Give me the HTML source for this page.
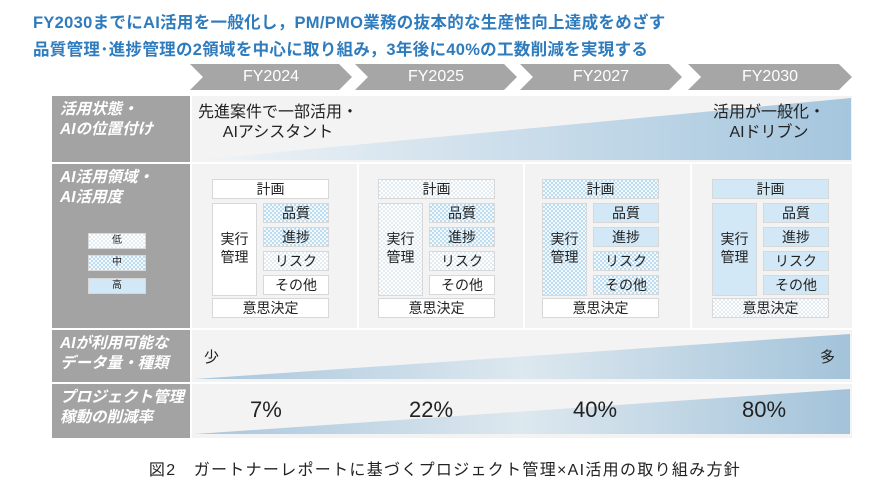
<!DOCTYPE html>
<html><head><meta charset="utf-8"><style>
*{margin:0;padding:0;box-sizing:border-box}
body{width:890px;height:500px;background:#fff;position:relative;overflow:hidden;font-family:"Liberation Sans","Noto Sans CJK JP",sans-serif}
.a{position:absolute}
.t{color:#2e7bbd;font-weight:bold;font-size:16.5px;left:33px;letter-spacing:0.3px}
.chev{position:absolute;top:64px;height:26px;background:#a6a6a6;color:#fff;font-size:16px;text-align:center;line-height:26px;clip-path:polygon(0 0,92% 0,100% 50%,92% 100%,0 100%,8% 50%)}
.lab{position:absolute;left:52px;width:138px;background:#a3a3a3;color:#fff;font-weight:bold;font-style:italic;font-size:15.5px;line-height:20px;padding:4px 0 0 8px}
.cont{position:absolute;left:192px;width:660px;background:#f3f3f3}
.b{position:absolute;border:1px solid #d8d8d8;background:#fff;font-size:14px;color:#222;text-align:center;line-height:18px}
.low{background:repeating-conic-gradient(#e3ecf2 0 25%,#fff 0 50%) 0 0/4px 4px}
.mid{background:repeating-conic-gradient(#bcdcf0 0 25%,#f2f8fc 0 50%) 0 0/4px 4px}
.hi{background:#d3e8f7}
.big{font-size:22px;color:#222;position:absolute;top:397px}
</style></head><body>
<div class="a t" style="top:9px">FY2030までにAI活用を一般化し，PM/PMO業務の抜本的な生産性向上達成をめざす</div>
<div class="a t" style="top:36px">品質管理･進捗管理の2領域を中心に取り組み，3年後に40%の工数削減を実現する</div>

<div class="chev" style="left:190px;width:162px">FY2024</div>
<div class="chev" style="left:355px;width:162px">FY2025</div>
<div class="chev" style="left:520px;width:162px">FY2027</div>
<div class="chev" style="left:688px;width:164px">FY2030</div>

<div class="lab" style="top:96px;height:66px">活用状態・<br>AIの位置付け</div>
<div class="lab" style="top:164px;height:164px">AI活用領域・<br>AI活用度</div>
<div class="lab" style="top:330px;height:52px">AIが利用可能な<br>データ量・種類</div>
<div class="lab" style="top:384px;height:54px">プロジェクト管理<br>稼動の削減率</div>

<div class="b low" style="left:88px;top:233px;width:58px;height:16px;font-size:10px;line-height:14px">低</div>
<div class="b mid" style="left:88px;top:255px;width:58px;height:16px;font-size:10px;line-height:14px">中</div>
<div class="b hi" style="left:88px;top:278px;width:58px;height:16px;font-size:10px;line-height:14px">高</div>

<div class="cont" style="top:96px;height:66px"></div>
<div class="cont" style="top:164px;height:164px;background:#fff"></div>
<div class="cont" style="top:330px;height:52px"></div>
<div class="cont" style="top:384px;height:54px"></div>

<svg class="a" style="left:0;top:0" width="890" height="500">
<defs>
<linearGradient id="g1" x1="0" x2="1"><stop offset="0" stop-color="#f0f4f7"/><stop offset="1" stop-color="#a5c6de"/></linearGradient>
<linearGradient id="g2" x1="0" x2="1"><stop offset="0" stop-color="#a8c6dc"/><stop offset="0.5" stop-color="#dde8ef"/><stop offset="1" stop-color="#a3c3da"/></linearGradient>
</defs>
<polygon points="195,160 851,98 851,160" fill="url(#g1)"/>
<rect x="192" y="164" width="165" height="164" fill="#f3f3f3"/>
<rect x="359" y="164" width="164" height="164" fill="#f3f3f3"/>
<rect x="525" y="164" width="165" height="164" fill="#f3f3f3"/>
<rect x="692" y="164" width="160" height="164" fill="#f3f3f3"/>
<polygon points="195,379 850,334 850,379" fill="url(#g2)"/>
<polygon points="195,434 850,389 850,434" fill="url(#g2)"/>
</svg>

<div class="a" style="left:198px;top:103px;font-size:16px;line-height:20px;color:#222;text-align:center">先進案件で一部活用・<br>AIアシスタント</div>
<div class="a" style="left:713px;top:103px;font-size:16px;line-height:20px;color:#222;text-align:center">活用が一般化・<br>AIドリブン</div>

<!-- col1 -->
<div class="b" style="left:212px;top:179px;width:117px;height:20px">計画</div>
<div class="b" style="left:212px;top:203px;width:45px;height:93px;padding-top:26px">実行<br>管理</div>
<div class="b mid" style="left:263px;top:203px;width:66px;height:20px">品質</div>
<div class="b mid" style="left:263px;top:227px;width:66px;height:20px">進捗</div>
<div class="b low" style="left:263px;top:251px;width:66px;height:20px">リスク</div>
<div class="b" style="left:263px;top:275px;width:66px;height:20px">その他</div>
<div class="b" style="left:212px;top:298px;width:117px;height:20px">意思決定</div>
<!-- col2 -->
<div class="b low" style="left:378px;top:179px;width:117px;height:20px">計画</div>
<div class="b low" style="left:378px;top:203px;width:45px;height:93px;padding-top:26px">実行<br>管理</div>
<div class="b mid" style="left:429px;top:203px;width:66px;height:20px">品質</div>
<div class="b mid" style="left:429px;top:227px;width:66px;height:20px">進捗</div>
<div class="b low" style="left:429px;top:251px;width:66px;height:20px">リスク</div>
<div class="b" style="left:429px;top:275px;width:66px;height:20px">その他</div>
<div class="b" style="left:378px;top:298px;width:117px;height:20px">意思決定</div>
<!-- col3 -->
<div class="b mid" style="left:542px;top:179px;width:117px;height:20px">計画</div>
<div class="b mid" style="left:542px;top:203px;width:45px;height:93px;padding-top:26px">実行<br>管理</div>
<div class="b hi" style="left:593px;top:203px;width:66px;height:20px">品質</div>
<div class="b hi" style="left:593px;top:227px;width:66px;height:20px">進捗</div>
<div class="b mid" style="left:593px;top:251px;width:66px;height:20px">リスク</div>
<div class="b mid" style="left:593px;top:275px;width:66px;height:20px">その他</div>
<div class="b" style="left:542px;top:298px;width:117px;height:20px">意思決定</div>
<!-- col4 -->
<div class="b hi" style="left:712px;top:179px;width:117px;height:20px">計画</div>
<div class="b hi" style="left:712px;top:203px;width:45px;height:93px;padding-top:26px">実行<br>管理</div>
<div class="b hi" style="left:763px;top:203px;width:66px;height:20px">品質</div>
<div class="b hi" style="left:763px;top:227px;width:66px;height:20px">進捗</div>
<div class="b hi" style="left:763px;top:251px;width:66px;height:20px">リスク</div>
<div class="b hi" style="left:763px;top:275px;width:66px;height:20px">その他</div>
<div class="b low" style="left:712px;top:298px;width:117px;height:20px">意思決定</div>

<div class="a" style="left:204px;top:346px;font-size:15px;color:#222">少</div>
<div class="a" style="left:820px;top:346px;font-size:15px;color:#222">多</div>

<div class="big" style="left:250px">7%</div>
<div class="big" style="left:409px">22%</div>
<div class="big" style="left:573px">40%</div>
<div class="big" style="left:742px">80%</div>

<div class="a" style="left:0;width:890px;top:456px;text-align:center;font-size:16px;letter-spacing:1.3px;color:#222">図2　ガートナーレポートに基づくプロジェクト管理×AI活用の取り組み方針</div>
</body></html>
